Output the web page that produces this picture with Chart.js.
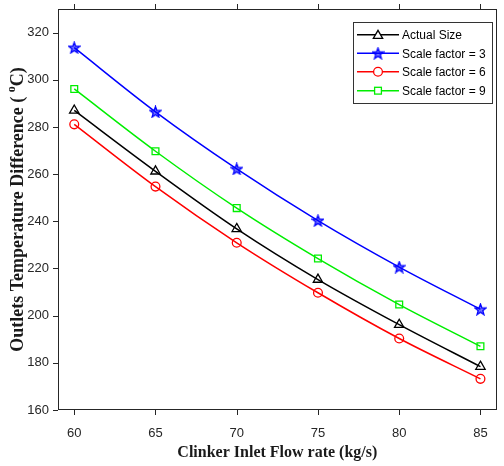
<!DOCTYPE html>
<html>
<head>
<meta charset="utf-8">
<script src="https://cdn.jsdelivr.net/npm/chart.js@4/dist/chart.umd.min.js"></script>
<style>
  html, body { margin: 0; padding: 0; background: #ffffff; }
  #wrap { width: 504px; height: 466px; }
</style>
</head>
<body>
<div id="wrap"><canvas id="chart" width="504" height="466"></canvas></div>
<script>
// Clinker inlet flow rate (kg/s)
const flowRates = [60, 65, 70, 75, 80, 85];

// Outlet temperature difference (°C) for each model size
const actualSize = [287.0, 261.2, 236.8, 215.3, 196.2, 178.4];
const scaleFactor3 = [313.6, 286.4, 262.2, 240.3, 220.6, 202.7];
const scaleFactor6 = [281.1, 254.7, 230.9, 209.7, 190.3, 173.2];
const scaleFactor9 = [296.1, 269.7, 245.6, 224.2, 204.7, 187.0];

const seriesLabels = ['Actual Size', 'Scale factor = 3', 'Scale factor = 6', 'Scale factor = 9'];
const xTickValues = [60, 65, 70, 75, 80, 85];
const yTickValues = [160, 180, 200, 220, 240, 260, 280, 300, 320];

const xTitle = 'Clinker Inlet Flow rate (kg/s)';
const yTitleParts = ['Outlets Temperature Difference ( ', 'o', 'C)'];

// Five-pointed star marker
function makeStar(color) {
  const c = document.createElement('canvas');
  c.width = 13; c.height = 13;
  const g = c.getContext('2d');
  const cx = 6.5, cy = 7, ro = 5.8, ri = 2.4;
  g.beginPath();
  for (let i = 0; i < 10; i++) {
    const r = i % 2 === 0 ? ro : ri;
    const a = -Math.PI / 2 + i * Math.PI / 5;
    const px = cx + r * Math.cos(a), py = cy + r * Math.sin(a);
    if (i === 0) g.moveTo(px, py); else g.lineTo(px, py);
  }
  g.closePath();
  g.strokeStyle = color;
  g.lineWidth = 1.3;
  g.stroke();
  g.fillStyle = color;
  g.globalAlpha = 0.55;
  g.fill();
  return c;
}
const starImg = makeStar('#0000ff');

const toPoints = arr => flowRates.map((x, i) => ({ x: x, y: arr[i] }));

const styles = [
  { color: '#000000', pointStyle: 'triangle', radius: 5.4 },
  { color: '#0000ff', pointStyle: starImg, radius: 6 },
  { color: '#ff0000', pointStyle: 'circle', radius: 4.4 },
  { color: '#00ee00', pointStyle: 'rect', radius: 4.8 }
];
const seriesData = [actualSize, scaleFactor3, scaleFactor6, scaleFactor9];

const datasets = seriesData.map((arr, i) => ({
  label: seriesLabels[i],
  data: toPoints(arr),
  borderColor: styles[i].color,
  backgroundColor: 'rgba(0,0,0,0)',
  borderWidth: 1.5,
  pointStyle: styles[i].pointStyle,
  pointRadius: styles[i].radius,
  pointBorderWidth: 1.3,
  pointBorderColor: styles[i].color,
  pointBackgroundColor: 'rgba(0,0,0,0)',
  cubicInterpolationMode: 'monotone',
  fill: false
}));

const AXIS_COLOR = '#262626';

// Frame, outward tick marks, axis titles and boxed legend
const framePlugin = {
  id: 'frame',
  afterDraw(chart) {
    const ctx = chart.ctx;
    const a = chart.chartArea;
    const xs = chart.scales.x, ys = chart.scales.y;
    ctx.save();
    ctx.strokeStyle = AXIS_COLOR;
    ctx.lineWidth = 1;
    ctx.strokeRect(Math.round(a.left) + 0.5, Math.round(a.top) + 0.5,
                   Math.round(a.right - a.left) - 1, Math.round(a.bottom - a.top) - 1);
    const tl = 5;
    ctx.beginPath();
    xTickValues.forEach(v => {
      const px = Math.round(xs.getPixelForValue(v)) + 0.5;
      ctx.moveTo(px, a.bottom); ctx.lineTo(px, a.bottom + tl);
      ctx.moveTo(px, a.top); ctx.lineTo(px, a.top - tl);
    });
    yTickValues.forEach(v => {
      const py = Math.round(ys.getPixelForValue(v)) + 0.5;
      ctx.moveTo(a.left, py); ctx.lineTo(a.left - tl, py);
    });
    ctx.stroke();

    // x-axis title
    ctx.fillStyle = '#1a1a1a';
    ctx.font = 'bold 16px "Liberation Serif", "Times New Roman", serif';
    ctx.textAlign = 'center';
    ctx.textBaseline = 'middle';
    ctx.fillText(xTitle, (a.left + a.right) / 2, 453);

    // y-axis title with superscript degree mark
    const mainFont = 'bold 18px "Liberation Serif", "Times New Roman", serif';
    const supFont = 'bold 12px "Liberation Serif", "Times New Roman", serif';
    ctx.font = mainFont;
    const w0 = ctx.measureText(yTitleParts[0]).width;
    const w2 = ctx.measureText(yTitleParts[2]).width;
    ctx.font = supFont;
    const w1 = ctx.measureText(yTitleParts[1]).width;
    const total = w0 + w1 + w2;
    ctx.translate(17, (a.top + a.bottom) / 2);
    ctx.rotate(-Math.PI / 2);
    ctx.textAlign = 'left';
    ctx.textBaseline = 'alphabetic';
    let cx = -total / 2;
    ctx.font = mainFont;
    ctx.fillText(yTitleParts[0], cx, 6);
    cx += w0;
    ctx.font = supFont;
    ctx.fillText(yTitleParts[1], cx, -2);
    cx += w1;
    ctx.font = mainFont;
    ctx.fillText(yTitleParts[2], cx, 6);
    ctx.restore();

    // legend box
    ctx.save();
    const lx = 353.5, ly = 22.5, lw = 139, lh = 81;
    ctx.fillStyle = '#ffffff';
    ctx.fillRect(lx, ly, lw, lh);
    ctx.strokeStyle = '#333333';
    ctx.lineWidth = 1;
    ctx.strokeRect(lx, ly, lw, lh);
    const rowY = [34.7, 53.3, 71.8, 90.7];
    ctx.font = '12px "Liberation Sans", Arial, sans-serif';
    ctx.textBaseline = 'middle';
    ctx.textAlign = 'left';
    chart.data.datasets.forEach((ds, i) => {
      const y = rowY[i];
      ctx.strokeStyle = ds.borderColor;
      ctx.lineWidth = 1.5;
      ctx.beginPath();
      ctx.moveTo(357, y); ctx.lineTo(399, y);
      ctx.stroke();
      const mx = 378;
      ctx.lineWidth = 1.3;
      ctx.fillStyle = '#ffffff';
      const ps = ds.pointStyle, r = ds.pointRadius;
      if (ps === 'triangle') {
        ctx.beginPath();
        for (let k = 0; k < 3; k++) {
          const ang = -Math.PI / 2 + k * 2 * Math.PI / 3;
          const px = mx + r * Math.cos(ang), py = y + 1 + r * Math.sin(ang);
          if (k === 0) ctx.moveTo(px, py); else ctx.lineTo(px, py);
        }
        ctx.closePath();
        ctx.fill(); ctx.stroke();
      } else if (ps === 'circle') {
        ctx.beginPath();
        ctx.arc(mx, y, r, 0, Math.PI * 2);
        ctx.fill(); ctx.stroke();
      } else if (ps === 'rect') {
        const s = r * Math.SQRT1_2;
        ctx.fillRect(mx - s, y - s, 2 * s, 2 * s);
        ctx.strokeRect(mx - s, y - s, 2 * s, 2 * s);
      } else if (ps instanceof HTMLCanvasElement) {
        ctx.drawImage(ps, mx - ps.width / 2, y - ps.height / 2);
      }
      ctx.fillStyle = '#000000';
      ctx.fillText(ds.label, 402, y + 1);
    });
    ctx.restore();
  }
};

new Chart(document.getElementById('chart'), {
  type: 'line',
  data: { datasets: datasets },
  options: {
    responsive: false,
    animation: false,
    events: [],
    layout: { padding: { left: 0, right: 2, top: 9, bottom: 0 } },
    plugins: { legend: { display: false }, tooltip: { enabled: false } },
    scales: {
      x: {
        type: 'linear',
        min: 59,
        max: 86,
        grid: { display: false, drawTicks: false },
        border: { display: false },
        afterBuildTicks: s => { s.ticks = xTickValues.map(v => ({ value: v })); },
        afterFit: s => { s.height = 56; s.paddingLeft = 0; s.paddingRight = 0; },
        ticks: {
          padding: 16,
          maxRotation: 0,
          color: AXIS_COLOR,
          font: { family: '"Liberation Sans", Arial, sans-serif', size: 13 }
        }
      },
      y: {
        type: 'linear',
        min: 160,
        max: 330,
        grid: { display: false, drawTicks: false },
        border: { display: false },
        afterBuildTicks: s => { s.ticks = yTickValues.map(v => ({ value: v })); },
        afterFit: s => { s.width = 58; s.paddingTop = 0; s.paddingBottom = 0; },
        ticks: {
          padding: 9,
          color: AXIS_COLOR,
          font: { family: '"Liberation Sans", Arial, sans-serif', size: 13 }
        }
      }
    }
  },
  plugins: [framePlugin]
});
</script>
</body>
</html>
